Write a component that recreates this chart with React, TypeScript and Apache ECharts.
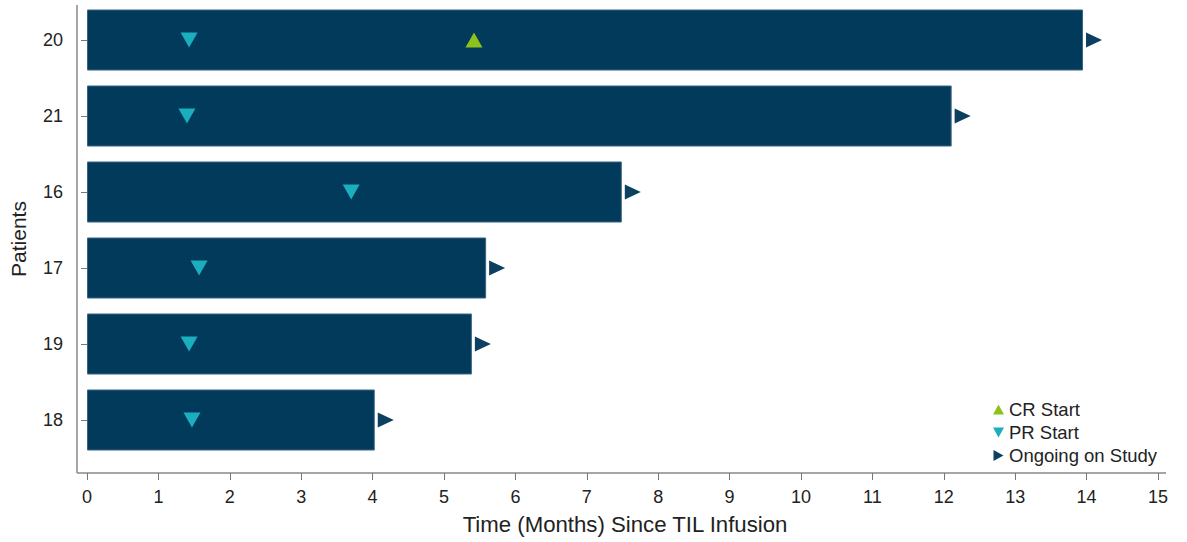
import React, { useEffect, useRef } from "react";
import * as echarts from "echarts";

const patients = ["20", "21", "16", "17", "19", "18"];
const durationMonths = [13.95, 12.11, 7.49, 5.59, 5.39, 4.03];
const prStart = [1.43, 1.4, 3.7, 1.57, 1.43, 1.47];
const crPatients = ["20"];
const crStart = [5.42];
const xTicks = [0, 15, 1];

const NAVY = "#023a5c";
const TEAL = "#1aaebf";
const GREEN = "#8cc21a";
const ARROW = "#0c3f60";
const TXT = "#222222";
const FONT = "Liberation Sans, Arial, sans-serif";

const DOWN = "path://M0,0 L10,0 L5,9 Z";
const UP = "path://M5,0 L10,9 L0,9 Z";
const RIGHT = "path://M0,0 L10,5.5 L0,11 Z";

export default function App() {
  const ref = useRef<HTMLDivElement>(null);
  useEffect(() => {
    if (!ref.current) return;
    const chart = echarts.init(ref.current, undefined, { renderer: "svg" });
    chart.setOption({
      animation: false,
      backgroundColor: "#ffffff",
      textStyle: { fontFamily: FONT, color: TXT },
      grid: { left: 87, right: 29, top: 2, bottom: 84 },
      xAxis: {
        type: "value",
        min: xTicks[0],
        max: xTicks[1],
        interval: xTicks[2],
        offset: 15,
        axisLine: { show: false },
        axisTick: { show: true, length: 7, lineStyle: { color: "#777" } },
        axisLabel: { fontSize: 18, color: TXT, margin: 15, fontFamily: FONT },
        splitLine: { show: false },
      },
      yAxis: {
        type: "category",
        data: patients,
        inverse: true,
        offset: 10,
        axisLine: { show: false },
        axisTick: { show: true, length: 6, alignWithLabel: true, lineStyle: { color: "#777" } },
        axisLabel: { fontSize: 18, color: TXT, margin: 14, fontFamily: FONT },
      },
      legend: {
        orient: "vertical",
        left: 993,
        top: 400,
        padding: 0,
        itemGap: 4,
        itemWidth: 11,
        itemHeight: 11,
        textStyle: { fontSize: 18.5, lineHeight: 19, color: TXT, fontFamily: FONT },
        data: [
          { name: "CR Start", icon: UP, itemStyle: { color: GREEN } },
          { name: "PR Start", icon: DOWN, itemStyle: { color: TEAL } },
          { name: "Ongoing on Study", icon: RIGHT, itemStyle: { color: ARROW } },
        ],
      },
      graphic: [
        {
          type: "line",
          shape: { x1: 77, y1: 5, x2: 77, y2: 473 },
          style: { stroke: "#888", lineWidth: 1.5 },
          silent: true,
        },
        {
          type: "line",
          shape: { x1: 77, y1: 473, x2: 1166, y2: 473 },
          style: { stroke: "#888", lineWidth: 1.5 },
          silent: true,
        },
        {
          type: "text",
          x: 625,
          y: 524,
          style: {
            text: "Time (Months) Since TIL Infusion",
            fontSize: 22.2,
            fill: TXT,
            fontFamily: FONT,
            align: "center",
            verticalAlign: "middle",
          },
        },
        {
          type: "text",
          x: 18,
          y: 239,
          rotation: Math.PI / 2,
          style: {
            text: "Patients",
            fontSize: 21,
            fill: TXT,
            fontFamily: FONT,
            align: "center",
            verticalAlign: "middle",
          },
        },
      ],
      series: [
        {
          type: "bar",
          name: "Duration",
          data: durationMonths,
          barWidth: 61,
          itemStyle: { color: NAVY, borderColor: "#3b6480", borderWidth: 1 },
          silent: true,
        },
        {
          type: "scatter",
          name: "PR Start",
          symbol: DOWN,
          symbolSize: [17, 15],
          itemStyle: { color: TEAL, opacity: 1 },
          data: patients.map((p, i) => [prStart[i], p]),
          z: 5,
        },
        {
          type: "scatter",
          name: "CR Start",
          symbol: UP,
          symbolSize: [17, 15],
          itemStyle: { color: GREEN, opacity: 1 },
          data: crPatients.map((p, i) => [crStart[i], p]),
          z: 5,
        },
        {
          type: "scatter",
          name: "Ongoing on Study",
          symbol: RIGHT,
          symbolSize: [16, 15],
          symbolOffset: [11, 0],
          itemStyle: { color: ARROW, opacity: 1 },
          data: patients.map((p, i) => [durationMonths[i], p]),
          z: 5,
        },
      ],
    });
    return () => chart.dispose();
  }, []);
  return (
    <div
      ref={ref}
      style={{ position: "absolute", left: 0, top: 0, width: 1187, height: 542 }}
    />
  );
}
